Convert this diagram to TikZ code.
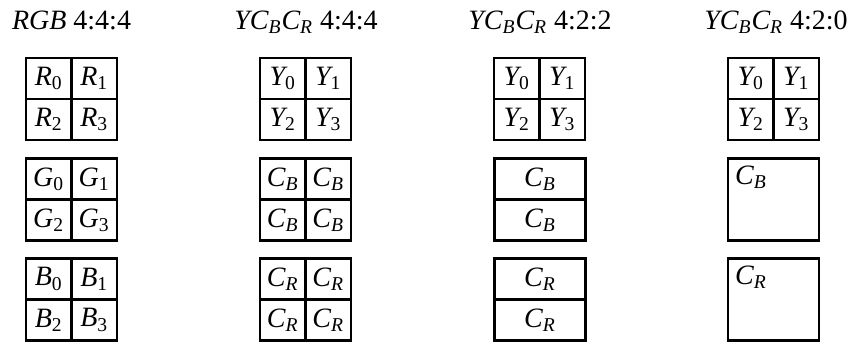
\documentclass[tikz,border=0pt]{standalone}
\usepackage{fontspec}
\setmainfont{Liberation Serif}
\usepackage{tikz}
\newcommand{\chan}[2]{{\itshape #1}\textsubscript{#2}}
\newcommand{\ycbcr}{{\itshape Y}\chan{C}{\itshape B}\chan{C}{\itshape R}}

\begin{document}
\begin{tikzpicture}[x=.5pt,y=-.5pt,font=\fontsize{14}{16}\selectfont,
  cell/.style={draw,line width=1.2pt,inner sep=0pt,minimum width=22.75pt,minimum height=20.5pt},
  halfcell/.style={cell,minimum width=45.5pt},
  bigcell/.style={cell,minimum width=45.5pt,minimum height=41pt},
  title/.style={anchor=base}]
  \useasboundingbox (0,0) rectangle (851,345);
  % titles
  \node[title] (t1) at (71.5,29) {\textit{RGB}\ 4:4:4};
  \node[title] (t2) at (306,29) {\ycbcr\ 4:4:4};
  \node[title] (t3) at (540,29) {\ycbcr\ 4:2:2};
  \node[title] (t4) at (776,29) {\ycbcr\ 4:2:0};
  % RGB 4:4:4
  \node[cell] (r0) at (48.75,78.5) {\chan{R}{0}};
  \node[cell] (r1) at (94.25,78.5) {\chan{R}{1}};
  \node[cell] (r2) at (48.75,119.5) {\chan{R}{2}};
  \node[cell] (r3) at (94.25,119.5) {\chan{R}{3}};
  \node[cell] (g0) at (48.75,179) {\chan{G}{0}};
  \node[cell] (g1) at (94.25,179) {\chan{G}{1}};
  \node[cell] (g2) at (48.75,220) {\chan{G}{2}};
  \node[cell] (g3) at (94.25,220) {\chan{G}{3}};
  \node[cell] (b0) at (48.75,279) {\chan{B}{0}};
  \node[cell] (b1) at (94.25,279) {\chan{B}{1}};
  \node[cell] (b2) at (48.75,320) {\chan{B}{2}};
  \node[cell] (b3) at (94.25,320) {\chan{B}{3}};
  % YCbCr 4:4:4
  \node[cell] (ya0) at (282.75,78.5) {\chan{Y}{0}};
  \node[cell] (ya1) at (328.25,78.5) {\chan{Y}{1}};
  \node[cell] (ya2) at (282.75,119.5) {\chan{Y}{2}};
  \node[cell] (ya3) at (328.25,119.5) {\chan{Y}{3}};
  \node[cell] (cba0) at (282.75,179) {\chan{C}{\itshape B}};
  \node[cell] (cba1) at (328.25,179) {\chan{C}{\itshape B}};
  \node[cell] (cba2) at (282.75,220) {\chan{C}{\itshape B}};
  \node[cell] (cba3) at (328.25,220) {\chan{C}{\itshape B}};
  \node[cell] (cra0) at (282.75,279) {\chan{C}{\itshape R}};
  \node[cell] (cra1) at (328.25,279) {\chan{C}{\itshape R}};
  \node[cell] (cra2) at (282.75,320) {\chan{C}{\itshape R}};
  \node[cell] (cra3) at (328.25,320) {\chan{C}{\itshape R}};
  % YCbCr 4:2:2
  \node[cell] (yb0) at (516.75,78.5) {\chan{Y}{0}};
  \node[cell] (yb1) at (562.25,78.5) {\chan{Y}{1}};
  \node[cell] (yb2) at (516.75,119.5) {\chan{Y}{2}};
  \node[cell] (yb3) at (562.25,119.5) {\chan{Y}{3}};
  \node[halfcell] (cbb0) at (540,179) {\chan{C}{\itshape B}};
  \node[halfcell] (cbb1) at (540,220) {\chan{C}{\itshape B}};
  \node[halfcell] (crb0) at (540,279) {\chan{C}{\itshape R}};
  \node[halfcell] (crb1) at (540,320) {\chan{C}{\itshape R}};
  % YCbCr 4:2:0
  \node[cell] (yc0) at (750.75,78.5) {\chan{Y}{0}};
  \node[cell] (yc1) at (796.25,78.5) {\chan{Y}{1}};
  \node[cell] (yc2) at (750.75,119.5) {\chan{Y}{2}};
  \node[cell] (yc3) at (796.25,119.5) {\chan{Y}{3}};
  \node[bigcell] (cbc) at (773.5,199.5) {};
  \node[anchor=north west,inner sep=4pt] (cbclabel) at (cbc.north west) {\chan{C}{\itshape B}};
  \node[bigcell] (crc) at (773.5,299.5) {};
  \node[anchor=north west,inner sep=4pt] (crclabel) at (crc.north west) {\chan{C}{\itshape R}};
\end{tikzpicture}
\end{document}
